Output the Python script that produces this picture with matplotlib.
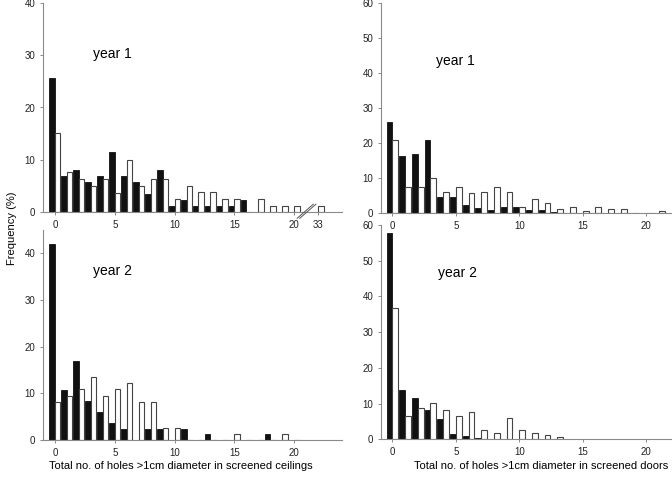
import matplotlib
matplotlib.use("Agg")
import matplotlib.pyplot as plt
import numpy as np

plt.rcParams['font.family'] = ['Liberation Sans', 'DejaVu Sans']

# ---------------- data ----------------
# Ceilings: categories 0..20 and 33 (axis break between 20 and 33)
ceil_cats_y1 = list(range(0, 21)) + [33]
ceil_y1_black = [25.6, 6.9, 8.1, 5.8, 6.9, 11.5, 6.9, 5.8, 3.5, 8.1, 1.2,
                 2.3, 1.2, 1.2, 1.2, 1.2, 2.3, 0, 0, 0, 0, 0]
ceil_y1_white = [15.1, 7.6, 6.3, 5.0, 6.3, 3.7, 10.0, 5.0, 6.3, 6.3, 2.4,
                 5.0, 3.8, 3.8, 2.5, 2.5, 0, 2.5, 1.2, 1.2, 1.2, 1.2]

ceil_cats_y2 = list(range(0, 21))
ceil_y2_black = [42.1, 10.7, 16.9, 8.3, 5.9, 3.6, 2.4, 0, 2.4, 2.4, 0,
                 2.4, 0, 1.3, 0, 0, 0, 0, 1.3, 0, 0]
ceil_y2_white = [8.1, 9.5, 10.9, 13.6, 9.5, 10.9, 12.2, 8.1, 8.1, 2.6, 2.6,
                 0, 0, 0, 0, 1.3, 0, 0, 0, 1.3, 0]

# Doors
door_cats_y1 = list(range(0, 22))
door_y1_black = [26.1, 16.4, 16.9, 21.0, 4.7, 4.7, 2.4, 1.4, 1.0, 1.9, 1.9,
                 1.0, 1.0, 0.5, 0, 0, 0, 0, 0, 0, 0, 0]
door_y1_white = [20.9, 7.4, 7.4, 10.1, 6.1, 7.4, 5.7, 6.1, 7.4, 6.1, 1.7,
                 4.0, 2.9, 1.1, 1.7, 0.6, 1.7, 1.1, 1.1, 0, 0, 0.6]

door_cats_y2 = list(range(0, 14))
door_y2_black = [57.9, 13.8, 11.5, 8.1, 5.8, 1.4, 0.9, 0.5, 0, 0, 0, 0, 0, 0]
door_y2_white = [36.7, 6.5, 8.7, 10.3, 8.2, 6.5, 7.7, 2.7, 1.7, 6.0, 2.7,
                 1.7, 1.1, 0.6]

ceil_ticks_y1 = [0, 5, 10, 15, 20, 33]
ceil_ticks_y2 = [0, 5, 10, 15, 20]
door_ticks = [0, 5, 10, 15, 20]


def brk(v):
    """broken-axis scale for ceilings: values above 20 are drawn at 22"""
    v = np.asarray(v, dtype=float)
    return np.where(v > 20, 22.0, v)


# ---------------- figure ----------------
W, H = 672, 479
fig = plt.figure(figsize=(W / 100, H / 100), dpi=100)

def px_axes(x0, x1, ytop, ybot):
    ax = fig.add_axes([x0 / W, 1 - ybot / H, (x1 - x0) / W, (ybot - ytop) / H])
    ax.set_facecolor('none')
    return ax

ax_tl = px_axes(43, 342, 3, 212)
ax_bl = px_axes(43, 342, 230, 440)
ax_tr = px_axes(381, 671.5, 3.3, 213.3)
ax_br = px_axes(381, 671.5, 225, 439.3)

SPINE = '#8a8a8a'
BW = 0.46

def style(ax, xlim, ylim, yticks, xticks, xticklabels):
    ax.set_xlim(*xlim)
    ax.set_ylim(*ylim)
    for s in ['top', 'right']:
        ax.spines[s].set_visible(False)
    for s in ['left', 'bottom']:
        ax.spines[s].set_color(SPINE)
        ax.spines[s].set_linewidth(0.8)
    ax.set_yticks(yticks)
    ax.set_xticks(xticks)
    ax.set_xticklabels(xticklabels)
    ax.tick_params(axis='both', colors=SPINE, labelcolor='#222222',
                   labelsize=7, length=2.5, width=0.7, pad=3)


def bars(ax, cats, black, white, mapper=lambda v: np.asarray(v, float)):
    x = mapper(cats)
    ax.bar(x - BW / 2, black, width=BW, color='#111111', edgecolor='#111111',
           linewidth=0.6)
    ax.bar(x + BW / 2, white, width=BW, color='white', edgecolor='#444444',
           linewidth=0.8)


bars(ax_tl, ceil_cats_y1, ceil_y1_black, ceil_y1_white, brk)
style(ax_tl, (-1, 24), (0, 40), [0, 10, 20, 30, 40],
      brk(ceil_ticks_y1), [str(t) for t in ceil_ticks_y1])

bars(ax_bl, ceil_cats_y2, ceil_y2_black, ceil_y2_white)
style(ax_bl, (-1, 24), (0, 45), [0, 10, 20, 30, 40],
      ceil_ticks_y2, [str(t) for t in ceil_ticks_y2])

bars(ax_tr, door_cats_y1, door_y1_black, door_y1_white)
style(ax_tr, (-0.9, 22), (0, 60), [0, 10, 20, 30, 40, 50, 60],
      door_ticks, [str(t) for t in door_ticks])

bars(ax_br, door_cats_y2, door_y2_black, door_y2_white)
style(ax_br, (-0.9, 22), (0, 60), [0, 10, 20, 30, 40, 50, 60],
      door_ticks, [str(t) for t in door_ticks])

# axis-break marks on the top-left panel
for dx in (0.0, 0.22):
    ax_tl.plot([20.25 + dx, 21.6 + dx], [-1.2, 1.5], color='#555555',
               lw=0.7, clip_on=False, zorder=5)

# panel labels
ax_tl.text(3.2, 30.2, 'year 1', fontsize=10, va='center', ha='left')
ax_bl.text(3.2, 36.2, 'year 2', fontsize=10, va='center', ha='left')
ax_tr.text(3.4, 43.6, 'year 1', fontsize=10, va='center', ha='left')
ax_br.text(3.6, 46.5, 'year 2', fontsize=10, va='center', ha='left')

fig.text(12 / W, 1 - 228 / H, 'Frequency (%)', rotation=90, fontsize=8,
         ha='center', va='center')
fig.text(181 / W, 1 - 466 / H,
         'Total no. of holes >1cm diameter in screened ceilings',
         fontsize=8, ha='center', va='center')
fig.text(541 / W, 1 - 466 / H,
         'Total no. of holes >1cm diameter in screened doors',
         fontsize=8, ha='center', va='center')

fig.savefig('out.png', dpi=100)
